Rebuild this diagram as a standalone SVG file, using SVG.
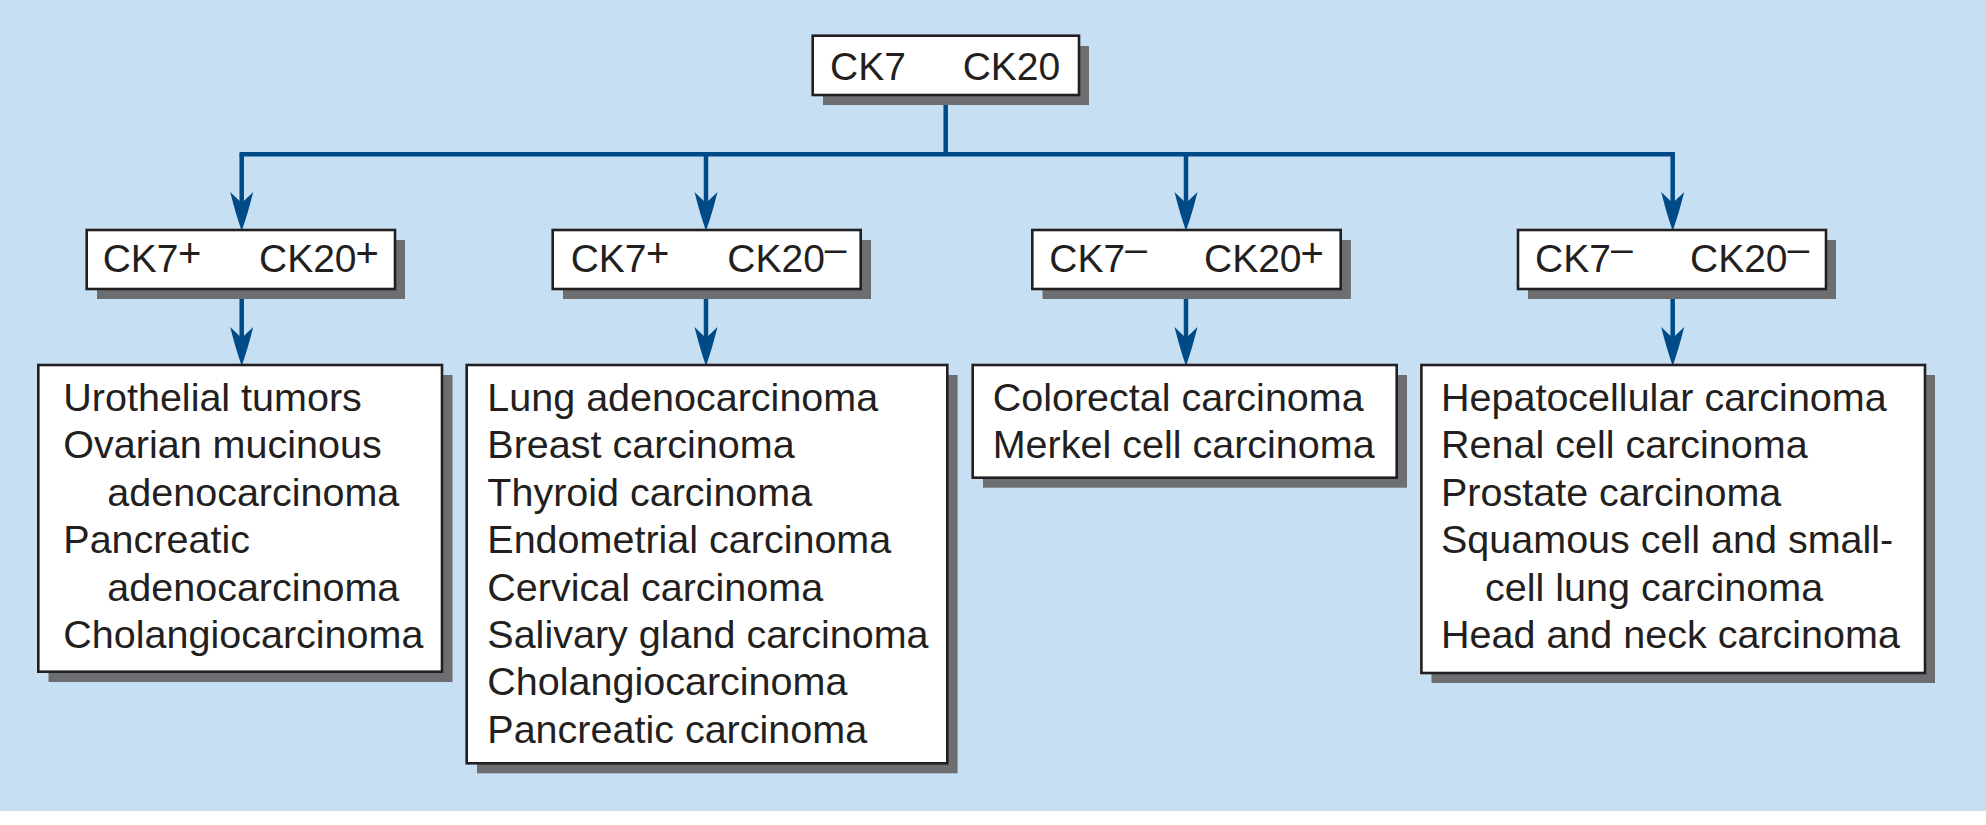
<svg xmlns="http://www.w3.org/2000/svg" width="1986" height="825" viewBox="0 0 1986 825">
<style>
.bg{fill:#c7dff3}
.shadow{fill:#6d6e71}
.box{fill:#ffffff;stroke:#231f20;stroke-width:2.6}
.t{font-family:"Liberation Sans",Arial,sans-serif;font-size:39px;fill:#231f20}
.l{font-family:"Liberation Sans",Arial,sans-serif;font-size:39.5px;fill:#231f20}
.sup{font-family:"Liberation Sans",Arial,sans-serif;font-size:40px;fill:#231f20}
.dash{font-family:"Liberation Sans",Arial,sans-serif;font-size:39px;fill:#231f20}
.conn{fill:none;stroke:#004b87;stroke-width:4.5}
</style>
<defs>
<marker id="arr" markerUnits="userSpaceOnUse" markerWidth="40" markerHeight="26" viewBox="0 0 40 26" refX="19" refY="13" orient="auto">
<path d="M0,1.5 Q22,7 39,13 Q22,19 0,24.5 L11,13 Z" fill="#004b87"/>
</marker>
</defs>
<rect class="bg" x="0" y="0" width="1986" height="811"/>
<g id="connectors">
<path class="conn" d="M945.7,95 V154.3"/>
<path class="conn" d="M241.7,154.3 H1672.7" stroke-linecap="square"/>
<path class="conn" d="M241.7,154.3 V211" marker-end="url(#arr)"/>
<path class="conn" d="M706,154.3 V211" marker-end="url(#arr)"/>
<path class="conn" d="M1186,154.3 V211" marker-end="url(#arr)"/>
<path class="conn" d="M1672.7,154.3 V211" marker-end="url(#arr)"/>
<path class="conn" d="M241.7,289 V346" marker-end="url(#arr)"/>
<path class="conn" d="M706,289 V346" marker-end="url(#arr)"/>
<path class="conn" d="M1186,289 V346" marker-end="url(#arr)"/>
<path class="conn" d="M1672.7,289 V346" marker-end="url(#arr)"/>
</g>
<g id="root">
<rect class="shadow" x="823" y="46" width="266" height="59"/>
<rect class="box" x="812.7" y="35.7" width="266.3" height="59.3"/>
<text class="t" x="830" y="80">CK7</text>
<text class="t" x="962.7" y="80">CK20</text>
</g>
<g id="pp">
<rect class="shadow" x="97" y="240" width="308" height="59"/>
<rect class="box" x="86.7" y="230" width="308.3" height="59"/>
<text class="t" x="102.7" y="271.7">CK7</text><text class="sup" x="178" y="266.5">+</text>
<text class="t" x="259" y="271.7">CK20</text><text class="sup" x="355.5" y="266.5">+</text>
</g>
<g id="pm">
<rect class="shadow" x="563" y="240" width="308" height="59"/>
<rect class="box" x="552.7" y="230" width="308" height="59"/>
<text class="t" x="570.7" y="271.7">CK7</text><text class="sup" x="646" y="266.5">+</text>
<text class="t" x="727.3" y="271.7">CK20</text><text class="dash" x="824.8" y="262">–</text>
</g>
<g id="mp">
<rect class="shadow" x="1042.5" y="240" width="308.4" height="59"/>
<rect class="box" x="1032.3" y="230" width="308.4" height="59"/>
<text class="t" x="1049.3" y="271.7">CK7</text><text class="dash" x="1125.2" y="262">–</text>
<text class="t" x="1204" y="271.7">CK20</text><text class="sup" x="1300.5" y="266.5">+</text>
</g>
<g id="mm">
<rect class="shadow" x="1528" y="240" width="308" height="59"/>
<rect class="box" x="1518" y="230" width="308" height="59"/>
<text class="t" x="1535" y="271.7">CK7</text><text class="dash" x="1610.9" y="262">–</text>
<text class="t" x="1690" y="271.7">CK20</text><text class="dash" x="1787.5" y="262">–</text>
</g>
<g id="list-pp">
<rect class="shadow" x="48.5" y="375" width="404" height="307"/>
<rect class="box" x="38.3" y="365" width="403.7" height="306.7"/>
<text class="l" x="63.3" y="410.7">Urothelial tumors</text>
<text class="l" x="63.3" y="458.2">Ovarian mucinous</text>
<text class="l" x="107.3" y="505.6">adenocarcinoma</text>
<text class="l" x="63.3" y="553">Pancreatic</text>
<text class="l" x="107.3" y="600.5">adenocarcinoma</text>
<text class="l" x="63.3" y="648">Cholangiocarcinoma</text>
</g>
<g id="list-pm">
<rect class="shadow" x="477" y="375" width="480.6" height="398.3"/>
<rect class="box" x="466.7" y="365" width="480.6" height="398.3"/>
<text class="l" x="487.3" y="410.7">Lung adenocarcinoma</text>
<text class="l" x="487.3" y="458.2">Breast carcinoma</text>
<text class="l" x="487.3" y="505.6">Thyroid carcinoma</text>
<text class="l" x="487.3" y="553">Endometrial carcinoma</text>
<text class="l" x="487.3" y="600.5">Cervical carcinoma</text>
<text class="l" x="487.3" y="648">Salivary gland carcinoma</text>
<text class="l" x="487.3" y="695.4">Cholangiocarcinoma</text>
<text class="l" x="487.3" y="742.8">Pancreatic carcinoma</text>
</g>
<g id="list-mp">
<rect class="shadow" x="983" y="375" width="424" height="112.7"/>
<rect class="box" x="972.7" y="365" width="424" height="112.7"/>
<text class="l" x="992.7" y="410.7">Colorectal carcinoma</text>
<text class="l" x="992.7" y="458.2">Merkel cell carcinoma</text>
</g>
<g id="list-mm">
<rect class="shadow" x="1431.5" y="375" width="503.5" height="308"/>
<rect class="box" x="1421.4" y="365" width="503.6" height="308"/>
<text class="l" x="1441" y="410.7">Hepatocellular carcinoma</text>
<text class="l" x="1441" y="458.2">Renal cell carcinoma</text>
<text class="l" x="1441" y="505.6">Prostate carcinoma</text>
<text class="l" x="1441" y="553">Squamous cell and small-</text>
<text class="l" x="1485" y="600.5">cell lung carcinoma</text>
<text class="l" x="1441" y="648">Head and neck carcinoma</text>
</g>
</svg>
